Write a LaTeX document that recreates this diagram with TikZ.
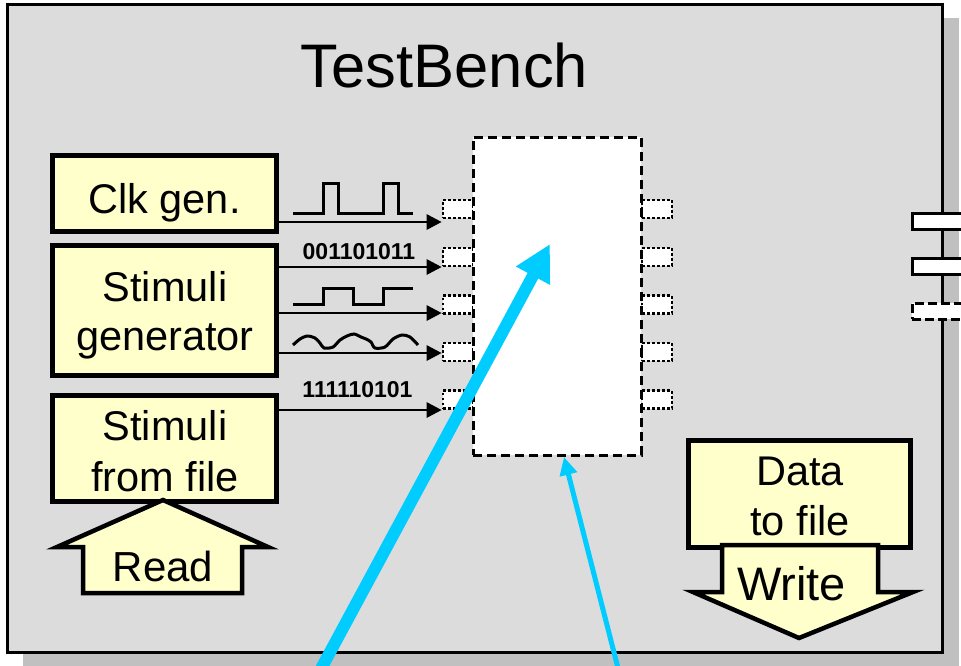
\documentclass[tikz,border=0pt]{standalone}
\usepackage{fontspec}
\setmainfont{Liberation Sans}
\usetikzlibrary{arrows.meta,calc}

\definecolor{panelgray}{HTML}{DCDCDC}
\definecolor{shadowgray}{HTML}{C0C0C0}
\definecolor{paleyellow}{HTML}{FFFFCC}
\definecolor{cyanblue}{HTML}{00CCFF}

\tikzset{
  block/.style={draw=black, line width=5pt, fill=paleyellow, inner sep=0pt},
  boxtext/.style={font=\fontsize{41.5}{50}\selectfont, anchor=base, inner sep=0pt},
  bits/.style={font=\bfseries\fontsize{23}{27}\selectfont, anchor=base, inner sep=0pt},
  wave/.style={line width=3pt, line join=miter},
  sig/.style={line width=2.8pt, -{Triangle[length=15pt,width=15pt]}},
  pin/.style={draw=black, fill=white, line width=2.6pt, dash pattern=on 2.6pt off 2.4pt,
              inner sep=0pt, minimum width=30pt, minimum height=18pt},
  extpin/.style={draw=black, fill=white, line width=3pt, inner sep=0pt,
                 minimum width=63pt, minimum height=16pt},
  blockarrow/.style={draw=black, line width=4.5pt, fill=paleyellow, line join=miter},
}

\begin{document}
\begin{tikzpicture}[x=1pt,y=-1pt]
\useasboundingbox (0,0) rectangle (961,665);

% test bench panel with its drop shadow
\fill[shadowgray] (23,18) rectangle (959,670);
\draw[line width=3pt, fill=panelgray] (7,4) rectangle (942,652);

\node[font=\fontsize{61.5}{70}\selectfont, anchor=base, inner sep=0pt] (title) at (444.5,87) {TestBench};

% external pins on the right edge
\node[extpin] (ep1) at (943.5,221) {};
\node[extpin] (ep2) at (943.5,266) {};
\node[extpin, dash pattern=on 9pt off 4pt] (ep3) at (943.5,311) {};

% generator blocks
\node[block, minimum width=224pt, minimum height=76pt] (clk) at (164,193) {};
\node[block, minimum width=224pt, minimum height=130pt] (stim) at (164,310) {};
\node[block, minimum width=224pt, minimum height=106pt] (file) at (164,448) {};
\node[block, minimum width=222pt, minimum height=107pt] (data) at (799,493.5) {};

\node[boxtext] (clkT) at (164.5,213) {Clk gen.};
\node[boxtext] (stimA) at (165,301) {Stimuli};
\node[boxtext] (stimB) at (165,350) {generator};
\node[boxtext] (fileA) at (165,440) {Stimuli};
\node[boxtext] (fileB) at (165,491) {from file};
\node[boxtext] (dataA) at (800,485) {Data};
\node[boxtext] (dataB) at (800,535) {to file};

% read / write block arrows
\draw[blockarrow] (163,500) -- (268,547) -- (242,547) -- (242,593) -- (83,593)
      -- (83,547) -- (57,547) -- cycle;
\node[boxtext, font=\fontsize{42}{50}\selectfont] (readT) at (163,581) {Read};
\draw[blockarrow] (722,545) -- (878,545) -- (878,592) -- (913,592) -- (799,638)
      -- (693,592) -- (722,592) -- cycle;
\node[boxtext, font=\fontsize{47}{55}\selectfont] (writeT) at (791.5,600) {Write};

% unit under test and its pins
\foreach \i/\y in {1/209,2/257,3/304.5,4/352,5/399.5}{
  \node[pin] (lp\i) at (458,\y) {};
  \node[pin] (rp\i) at (657,\y) {};
}
\node[draw=black, fill=white, line width=3pt, dash pattern=on 9pt off 5pt,
      inner sep=0pt, minimum width=168pt, minimum height=318pt] (dut) at (557,296) {};

% stimulus waveforms and bit patterns
\draw[wave] (293,213) -- (323,213) -- (323,183) -- (338,183) -- (338,213)
      -- (383,213) -- (383,183) -- (398,183) -- (398,213) -- (413,213);
\node[bits] (bitsA) at (359,259) {001101011};
\draw[wave] (293,304) -- (323,304) -- (323,288) -- (353,288) -- (353,304)
      -- (383,304) -- (383,288) -- (413,288);
\draw[line width=3pt] plot[smooth, tension=0.5] coordinates {
  (293,345) (300,339) (307,336) (315,338) (320,343) (324,348) (333,347)
  (340,340) (347,336) (354,334) (361,337) (366,339) (371,342) (375,348)
  (385,347) (393,339) (402,335) (410,337) (418,345)};
\node[bits] (bitsB) at (357.5,397) {111110101};

% signal connections into the pins
\coordinate (s1) at (0,222);
\coordinate (s2) at (0,267);
\coordinate (s3) at (0,313);
\coordinate (s4) at (0,353);
\coordinate (s5) at (0,410);
\draw[sig] (clk.east |- s1) -- (lp1.west |- s1);
\draw[sig] (stim.east |- s2) -- (lp2.west |- s2);
\draw[sig] (stim.east |- s3) -- (lp3.west |- s3);
\draw[sig] (stim.east |- s4) -- (lp4.west |- s4);
\draw[sig] (file.east |- s5) -- (lp5.west |- s5);

% pointers into the unit under test
\coordinate (bigFrom) at (319.3,672);
\coordinate (bigTo) at (550,244);
\coordinate (thinFrom) at (619,672);
\coordinate (thinTo) at (564,457);
\draw[cyanblue, line width=12pt, -{Triangle[length=36pt,width=36pt]}] (bigFrom) -- (bigTo);
\draw[cyanblue, line width=5pt, -{Triangle[length=18pt,width=17pt]}] (thinFrom) -- (thinTo);
\end{tikzpicture}
\end{document}
